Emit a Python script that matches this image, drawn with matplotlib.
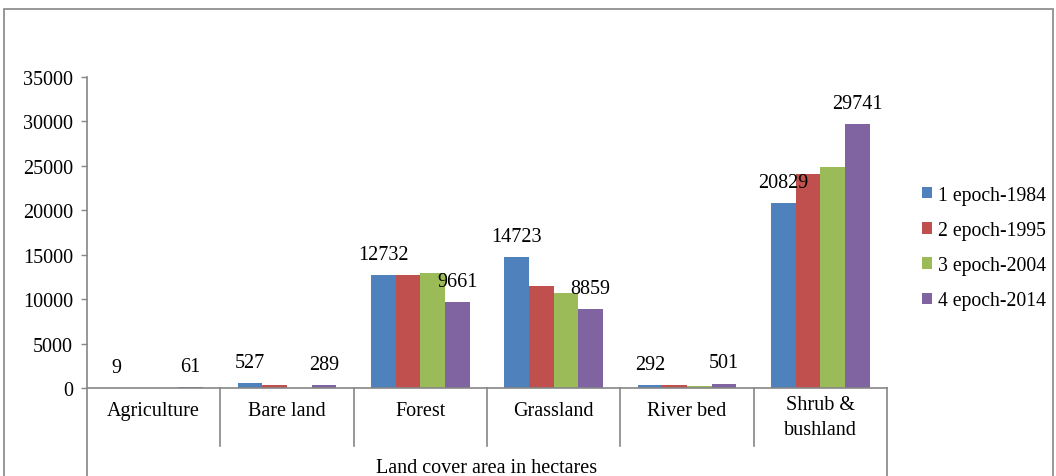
import matplotlib.pyplot as plt
import matplotlib.transforms as mtransforms
from matplotlib.patches import Rectangle, Patch
import numpy as np

plt.rcParams['font.family'] = ['Liberation Serif', 'DejaVu Serif']

categories = ["Agriculture", "Bare land", "Forest", "Grassland", "River bed", "Shrub &\nbushland"]
series_names = ["1 epoch-1984", "2 epoch-1995", "3 epoch-2004", "4 epoch-2014"]
epoch_1984 = [9, 527, 12732, 14723, 292, 20829]
epoch_1995 = [40, 300, 12730, 11460, 290, 24100]
epoch_2004 = [0, 20, 12950, 10650, 280, 24900]
epoch_2014 = [61, 289, 9661, 8859, 501, 29741]
colors = ["#4f81bd", "#c0504d", "#9bbb59", "#8064a2"]
yticks = [0, 5000, 10000, 15000, 20000, 25000, 30000, 35000]
axis_title = "Land cover area in hectares"

fs = 14.5
grey = "#868686"
fig = plt.figure(figsize=(10.56, 4.77), dpi=100)
ax = fig.add_axes([87 / 1056, 1 - 389 / 477, 800 / 1056, 311 / 477])

# outer chart frame (bottom edge is cut off)
fig.patches.append(Rectangle((4 / 1056, -0.1), 1049 / 1056, 1.1 - 10 / 477,
                             transform=fig.transFigure, fill=False,
                             edgecolor=grey, lw=1.2))

all_series = [epoch_1984, epoch_1995, epoch_2004, epoch_2014]
x = np.arange(len(categories))
w = 0.185
for i, vals in enumerate(all_series):
    pos = x + (i - 1.5) * w
    ax.bar(pos, vals, w, color=colors[i], edgecolor="none", zorder=2)
    if i in (0, 3):
        for xp, v in zip(pos, vals):
            ax.annotate(str(v), (xp, v), xytext=(0, 8), textcoords="offset points",
                        ha="center", va="bottom", fontsize=fs)

ax.set_xlim(-0.5, len(categories) - 0.5)
ax.set_ylim(0, 35000)
ax.set_yticks(yticks)
ax.set_yticklabels([str(t) for t in yticks], fontsize=fs)
ax.tick_params(axis="y", direction="out", length=4, color=grey, width=1, pad=6)
ax.set_xticks([])
for s in ["top", "right"]:
    ax.spines[s].set_visible(False)
for s in ["left", "bottom"]:
    ax.spines[s].set_color(grey)
    ax.spines[s].set_linewidth(1.2)

# multi-level category axis
trans = mtransforms.blended_transform_factory(ax.transData, ax.transAxes)
for k in range(len(categories) + 1):
    xb = k - 0.5
    ylow = -0.32 if k in (0, len(categories)) else -58 / 311
    ax.plot([xb, xb], [0, ylow], color=grey, lw=1.2, transform=trans, clip_on=False)
for k, c in enumerate(categories):
    yl = -23 / 311 if "\n" not in c else -29 / 311
    ax.text(k, yl, c, transform=trans, ha="center", va="center", fontsize=fs,
            linespacing=1.4)
ax.text(0.5, -80 / 311, axis_title, transform=ax.transAxes, ha="center",
        va="center", fontsize=fs)

handles = [Patch(facecolor=c, edgecolor="none") for c in colors]
fig.legend(handles, series_names, loc="center left",
           bbox_to_anchor=(904 / 1056, 1 - 249 / 477), frameon=False,
           fontsize=14.2, handlelength=0.5, handleheight=0.5,
           handletextpad=0.3, labelspacing=0.82)

fig.savefig("out.png", dpi=100)
